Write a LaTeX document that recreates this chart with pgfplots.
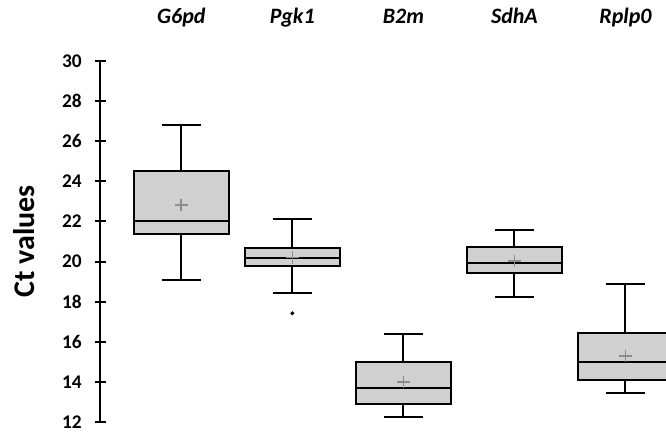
\documentclass[border=0pt]{standalone}
\usepackage{fontspec}
\setmainfont{Carlito}
\usepackage{pgfplots}
\pgfplotsset{compat=1.18}
\usepgfplotslibrary{statistics}
\definecolor{boxfill}{HTML}{D0D0D0}
\definecolor{meangray}{HTML}{8C8C8C}
\begin{document}
\begin{tikzpicture}
\useasboundingbox (0,0) rectangle (499.5pt,324pt);
\begin{axis}[
 at={(75pt,7.5pt)}, anchor=south west,
 scale only axis, width=424.5pt, height=270.75pt,
 xmin=0.268, xmax=5.365, ymin=12, ymax=30,
 enlargelimits=false,
 axis y line=left, axis x line=top,
 x axis line style={draw=none},
 y axis line style={-, line width=1.5pt, black},
 xtick={1,2,3,4,5}, xticklabels={G6pd,Pgk1,B2m,SdhA,Rplp0},
 xtick style={draw=none},
 xticklabel style={font=\fontsize{16.5}{18}\selectfont\bfseries\itshape, anchor=base, yshift=24pt},
 ytick={12,14,...,30},
 ytick style={line width=1.5pt, black},
 tick align=center, major tick length=8.25pt,
 yticklabel style={font=\fontsize{14.5}{16}\selectfont\bfseries, xshift=-6pt},
 /pgf/number format/assume math mode=true,
 ylabel={Ct values},
 every axis y label/.style={at={(axis description cs:-0.134,0.5)}, rotate=90, anchor=center, font=\fontsize{22.5}{26}\selectfont\bfseries},
 clip=true,
 boxplot/draw direction=y,
 boxplot/box extend=0.855,
 boxplot/whisker extend=0.351,
]
\addplot[boxplot prepared={draw position=1, lower whisker=19.08, lower quartile=21.39, median=22.02, upper quartile=24.52, upper whisker=26.8}, draw=black, fill=boxfill, line width=1.5pt] coordinates {};
\addplot[boxplot prepared={draw position=2, lower whisker=18.42, lower quartile=19.78, median=20.18, upper quartile=20.7, upper whisker=22.14}, draw=black, fill=boxfill, line width=1.5pt] coordinates {};
\addplot[boxplot prepared={draw position=3, lower whisker=12.25, lower quartile=12.92, median=13.7, upper quartile=15.0, upper whisker=16.37}, draw=black, fill=boxfill, line width=1.5pt] coordinates {};
\addplot[boxplot prepared={draw position=4, lower whisker=18.25, lower quartile=19.42, median=19.95, upper quartile=20.73, upper whisker=21.56}, draw=black, fill=boxfill, line width=1.5pt] coordinates {};
\addplot[boxplot prepared={draw position=5, lower whisker=13.43, lower quartile=14.1, median=15.0, upper quartile=16.46, upper whisker=18.87}, draw=black, fill=boxfill, line width=1.5pt] coordinates {};
\addplot[only marks, mark=+, mark size=4.7pt, draw=meangray, line width=1.2pt] coordinates {(1,22.82) (2,20.2) (3,13.99) (4,20.03) (5,15.3)};
\addplot[only marks, mark=*, mark size=1.3pt, black] coordinates {(2,17.42)};
\end{axis}
\end{tikzpicture}
\end{document}
